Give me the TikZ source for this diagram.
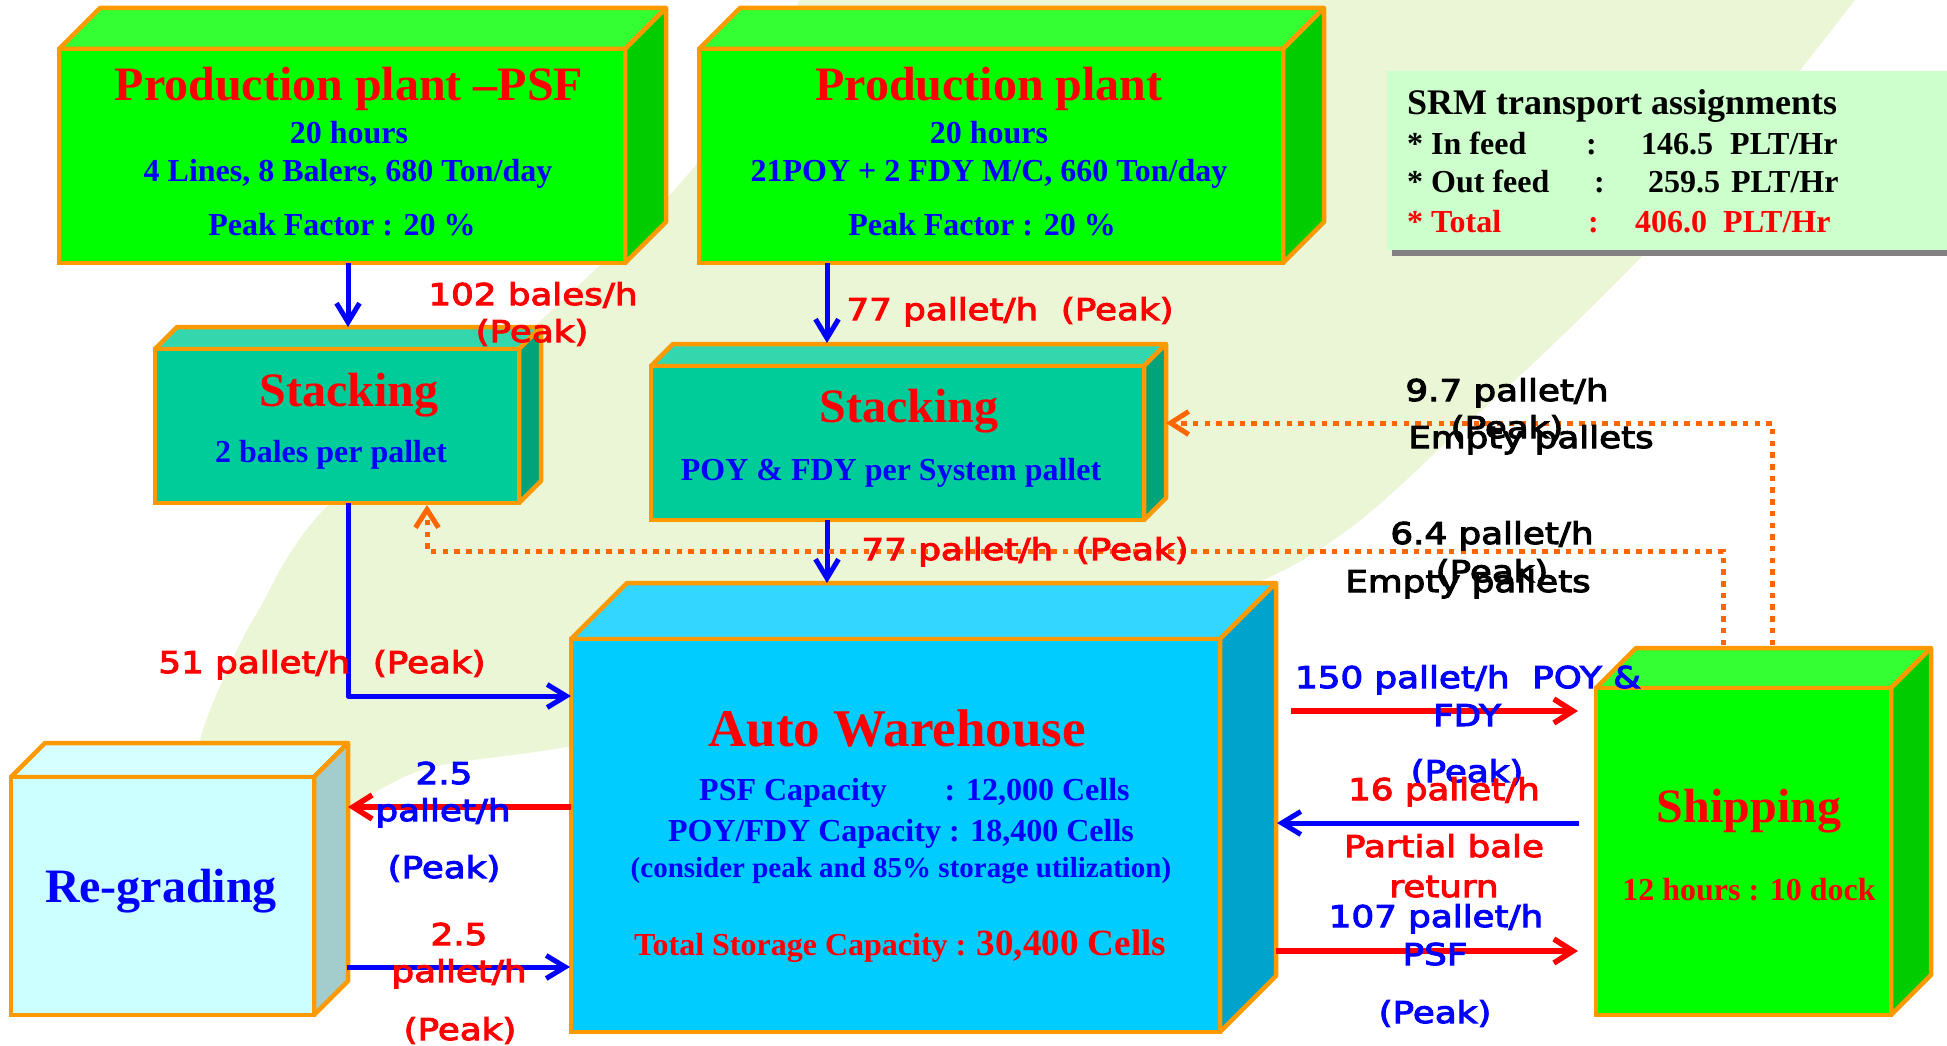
\documentclass[tikz,border=0pt]{standalone}
\usepackage{fontspec}
\setmainfont{Liberation Serif}
\newfontfamily\labfont[FakeStretch=1.19,FakeBold=3.5]{DejaVu Sans}
\usetikzlibrary{arrows.meta,calc}

\definecolor{bandgreen}{RGB}{235,246,214}
\definecolor{boxorange}{RGB}{255,153,0}
\definecolor{dotorange}{RGB}{255,102,0}
\definecolor{gFront}{RGB}{0,255,0}
\definecolor{gTop}{RGB}{51,255,51}
\definecolor{gSide}{RGB}{0,204,0}
\definecolor{tFront}{RGB}{0,204,153}
\definecolor{tTop}{RGB}{51,214,173}
\definecolor{tSide}{RGB}{0,163,122}
\definecolor{cFront}{RGB}{0,204,255}
\definecolor{cTop}{RGB}{51,214,255}
\definecolor{cSide}{RGB}{0,163,204}
\definecolor{rFront}{RGB}{204,255,255}
\definecolor{rTop}{RGB}{214,255,255}
\definecolor{rSide}{RGB}{163,204,204}
\definecolor{srmfill}{RGB}{204,255,204}
\definecolor{srmshadow}{RGB}{128,128,128}
\definecolor{tred}{RGB}{255,0,0}
\definecolor{tblue}{RGB}{0,0,255}

% #1 name, #2 x1, #3 y1, #4 x2, #5 y2, #6 depth, #7 front, #8 top, #9 side
\newcommand\cuboid[9]{%
  \path[fill=#8,draw=boxorange,line width=4.5pt,line join=round]
    (#2,#3) -- (#2+#6,#3-#6) -- (#4+#6,#3-#6) -- (#4,#3) -- cycle;
  \path[fill=#9,draw=boxorange,line width=4.5pt,line join=round]
    (#4,#3) -- (#4+#6,#3-#6) -- (#4+#6,#5-#6) -- (#4,#5) -- cycle;
  \node[draw=boxorange,fill=#7,line width=4.5pt,inner sep=0pt,outer sep=0pt,
    minimum width={#4-#2},minimum height={#5-#3},anchor=north west] (#1) at (#2,#3) {};
}

\tikzset{
  lab/.style={font=\labfont\fontsize{30}{36}\selectfont,inner sep=0pt,anchor=base},
  ttl/.style={font=\bfseries\fontsize{48}{52}\selectfont,inner sep=0pt,anchor=base,text=tred},
  sub/.style={font=\bfseries\fontsize{32}{36}\selectfont,inner sep=0pt,anchor=base,text=tblue},
  srmt/.style={font=\bfseries\fontsize{32}{36}\selectfont,inner sep=0pt,anchor=base west,text=black},
  bluearrow/.style={draw=tblue,line width=5pt,line join=round,-{Straight Barb[length=19pt,width=23pt]}},
  redarrow/.style={draw=tred,line width=5.5pt,line join=round,-{Straight Barb[length=19pt,width=24pt]}},
  dotarrow/.style={draw=dotorange,line width=5pt,dash pattern=on 5.5pt off 6.2pt,
    -{Straight Barb[length=18pt,width=23pt]}},
}

\begin{document}
\begin{tikzpicture}[x=1pt,y=-1pt]
\useasboundingbox (0,0) rectangle (1947,1046);
\fill[white] (0,0) rectangle (1947,1046);
% background crescent
\fill[bandgreen] plot[smooth,tension=0.55] coordinates {(800,0) (700,160) (549,313) (330,503) (257,613) (223,680) (200,740) (185,820) (200,880)}
  -- plot[smooth,tension=0.55] coordinates {(200,880) (300,840) (367,797) (433,767) (567,747) (900,690) (1274,575) (1474,417) (1648,250) (1760,120) (1855,0)} -- cycle;

% SRM box
\fill[srmshadow] (1392,76) rectangle (1947,256);
\node[fill=srmfill,inner sep=0pt,outer sep=0pt,minimum width=560,minimum height=179,anchor=north west] (srm) at (1387,71) {};
\node[srmt,font=\bfseries\fontsize{36}{40}\selectfont] (srmT) at (1407,115) {SRM transport assignments};
\node[srmt] (srm1a) at (1407,155) {* In feed};
\node[srmt] (srm1b) at (1586,155) {:};
\node[srmt] (srm1c) at (1641,155) {146.5\hspace{17pt}PLT/Hr};
\node[srmt] (srm2a) at (1407,193) {* Out feed};
\node[srmt] (srm2b) at (1594,193) {:};
\node[srmt] (srm2c) at (1648,193) {259.5\hspace{11pt}PLT/Hr};
\node[srmt,text=tred] (srm3a) at (1407,232) {* Total};
\node[srmt,text=tred] (srm3b) at (1588,232) {:};
\node[srmt,text=tred] (srm3c) at (1635,232) {406.0\hspace{16pt}PLT/Hr};

% boxes
\cuboid{psf}{59}{49}{625}{263}{41}{gFront}{gTop}{gSide}
\cuboid{pp}{699}{49}{1283}{263}{41}{gFront}{gTop}{gSide}
\cuboid{st1}{155}{349}{519}{503}{22}{tFront}{tTop}{tSide}
\cuboid{st2}{651}{366}{1144}{520}{22}{tFront}{tTop}{tSide}
\cuboid{wh}{571}{639}{1220}{1032}{56}{cFront}{cTop}{cSide}
\cuboid{rg}{11}{777}{314}{1015}{34}{rFront}{rTop}{rSide}
\cuboid{sh}{1596}{688}{1891}{1015}{40}{gFront}{gTop}{gSide}

% connector end points
\coordinate (psfOut) at (348,263);
\coordinate (st1In) at (348,327);
\coordinate (ppOut) at (827,263);
\coordinate (st2In) at (827,343);
\coordinate (st2Out) at (827,520);
\coordinate (whInTop) at (827,583);
\coordinate (st1Out) at (348,503);
\coordinate (st1Bend) at (348,696);
\coordinate (whInL) at (571,696);
\coordinate (whOutL) at (571,807);
\coordinate (rgIn) at (348,807);
\coordinate (rgOut) at (347,967);
\coordinate (whInL2) at (570,967);
\coordinate (whOutR1) at (1291,711);
\coordinate (shIn1) at (1578,711);
\coordinate (shOut) at (1579,823);
\coordinate (whInR) at (1277,823);
\coordinate (whOutR2) at (1276,951);
\coordinate (shIn2) at (1578,951);
\coordinate (shTopA) at (1772,645);
\coordinate (bendA) at (1772,423);
\coordinate (st2InR) at (1166,423);
\coordinate (shTopB) at (1723,645);
\coordinate (bendB1) at (1723,551);
\coordinate (bendB2) at (427,551);
\coordinate (st1InB) at (427,505);

% connectors
\draw[bluearrow] (psfOut) -- (st1In);
\draw[bluearrow] (ppOut) -- (st2In);
\draw[bluearrow] (st2Out) -- (whInTop);
\draw[bluearrow] (st1Out) -- (st1Bend) -- (whInL);
\draw[redarrow] (whOutL) -- (rgIn);
\draw[bluearrow] (rgOut) -- (whInL2);
\draw[redarrow] (whOutR1) -- (shIn1);
\draw[bluearrow] (shOut) -- (whInR);
\draw[redarrow] (whOutR2) -- (shIn2);
\draw[dotarrow] (shTopA) -- (bendA) -- (st2InR);
\draw[dotarrow] (shTopB) -- (bendB1) -- (bendB2) -- (st1InB);

% box texts
\node[ttl] (psfT) at (349,101) {Production plant –PSF};
\node[sub] (psfA) at (349,144) {20 hours};
\node[sub] (psfB) at (348,182) {4 Lines, 8 Balers, 680 Ton/day};
\node[sub] (psfC) at (342,235) {Peak Factor : 20 \%};
\node[ttl] (ppT) at (989,101) {Production plant};
\node[sub] (ppA) at (989,144) {20 hours};
\node[sub] (ppB) at (989,182) {21POY + 2 FDY M/C, 660 Ton/day};
\node[sub] (ppC) at (982,235) {Peak Factor : 20 \%};
\node[ttl] (st1T) at (349,406) {Stacking};
\node[sub] (st1A) at (331,462) {2 bales per pallet};
\node[ttl] (st2T) at (909,422) {Stacking};
\node[sub] (st2A) at (891,480) {POY \& FDY per System pallet};
\node[ttl,font=\bfseries\fontsize{53}{56}\selectfont] (whT) at (897,746) {Auto Warehouse};
\node[sub,anchor=base west] (whA) at (699,800) {PSF Capacity\hspace{58pt}: 12,000 Cells};
\node[sub] (whB) at (901,841) {POY/FDY Capacity : 18,400 Cells};
\node[sub,font=\bfseries\fontsize{29}{32}\selectfont] (whC) at (901,877) {(consider peak and 85\% storage utilization)};
\node[sub,anchor=base west,text=tred] (whD) at (634,955) {Total Storage Capacity : {\fontsize{37}{40}\selectfont 30,400 Cells}};
\node[ttl] (shT) at (1749,822) {Shipping};
\node[sub,text=tred] (shA) at (1749,900) {12 hours : 10 dock};
\node[ttl,text=tblue] (rgT) at (161,902) {Re-grading};

% flow labels
\node[lab,text=tred] (l102a) at (533,305) {102 bales/h};
\node[lab,text=tred] (l102b) at (532,342) {(Peak)};
\node[lab,text=tred] (l77a) at (1010,320) {77 pallet/h\ \ (Peak)};
\node[lab,text=tred] (l77b) at (1025,560) {77 pallet/h\ \ (Peak)};
\node[lab,text=tred] (l51) at (322,673) {51 pallet/h\ \ (Peak)};
\node[lab] (l97a) at (1507,401) {9.7 pallet/h};
\node[lab] (l97b) at (1507,438) {(Peak)};
\node[lab] (l97c) at (1531,448) {Empty pallets};
\node[lab] (l64a) at (1492,544) {6.4 pallet/h};
\node[lab] (l64b) at (1492,582) {(Peak)};
\node[lab] (l64c) at (1468,592) {Empty pallets};
\node[lab,text=tblue] (l150a) at (1468,688) {150 pallet/h\ \ POY \&};
\node[lab,text=tblue] (l150b) at (1467,726) {FDY};
\node[lab,text=tblue] (l150c) at (1467,782) {(Peak)};
\node[lab,text=tred] (l16a) at (1444,800) {16 pallet/h};
\node[lab,text=tred] (l16b) at (1444,857) {Partial bale};
\node[lab,text=tred] (l16c) at (1444,897) {return};
\node[lab,text=tblue] (l107a) at (1436,927) {107 pallet/h};
\node[lab,text=tblue] (l107b) at (1435,965) {PSF};
\node[lab,text=tblue] (l107c) at (1435,1023) {(Peak)};
\node[lab,text=tblue] (l25a) at (444,784) {2.5};
\node[lab,text=tblue] (l25b) at (443,821) {pallet/h};
\node[lab,text=tblue] (l25c) at (444,878) {(Peak)};
\node[lab,text=tred] (l25d) at (459,945) {2.5};
\node[lab,text=tred] (l25e) at (459,982) {pallet/h};
\node[lab,text=tred] (l25f) at (460,1040) {(Peak)};
\end{tikzpicture}
\end{document}
